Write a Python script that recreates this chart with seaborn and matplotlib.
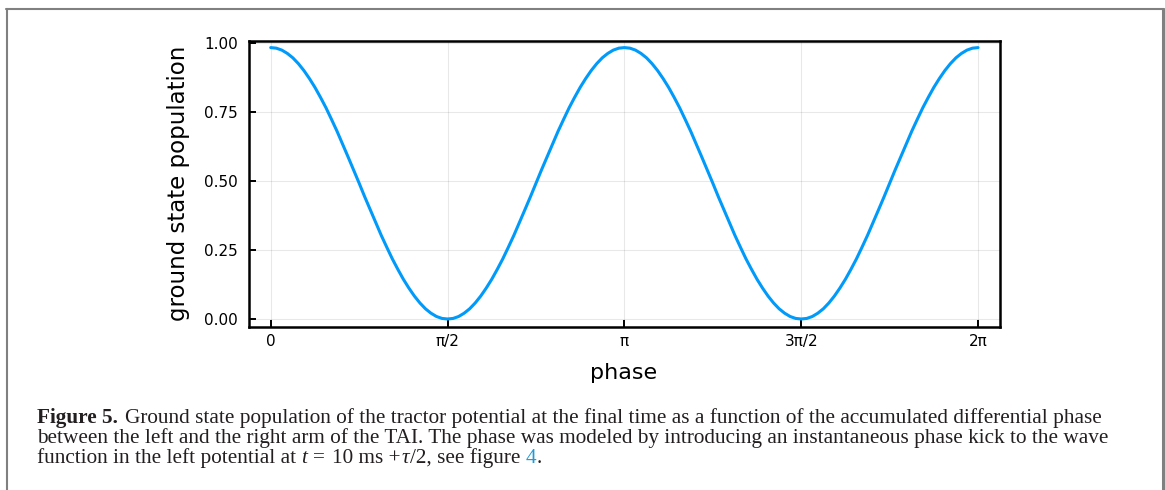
import matplotlib

matplotlib.use("Agg")
import matplotlib.pyplot as plt
import numpy as np
import seaborn as sns
from matplotlib.lines import Line2D

# ground state population, every pi/64 from 0 to pi/2
# (the curve is mirror symmetric about pi/2, pi, 3pi/2)
quarter = [0.983, 0.981, 0.974, 0.962, 0.946, 0.925, 0.900, 0.871, 0.839,
           0.803, 0.765, 0.723, 0.680, 0.634, 0.587, 0.540, 0.492,
           0.443, 0.396, 0.349, 0.303, 0.260, 0.218, 0.180, 0.144,
           0.112, 0.083, 0.058, 0.037, 0.021, 0.009, 0.002, 0.000]
half_period = quarter + quarter[::-1][1:]
population = half_period + half_period[1:]
phase = np.linspace(0, 2 * np.pi, len(population))

xtick_values = [0, np.pi / 2, np.pi, 3 * np.pi / 2, 2 * np.pi]
xtick_labels = ["0", "π/2", "π", "3π/2", "2π"]
ytick_values = [0.0, 0.25, 0.5, 0.75, 1.0]
ytick_labels = ["0.00", "0.25", "0.50", "0.75", "1.00"]

caption_line1 = "Ground state population of the tractor potential at the final time as a function of the accumulated differential phase"
caption_line2 = "between the left and the right arm of the TAI. The phase was modeled by introducing an instantaneous phase kick to the wave"

W, H, DPI = 1165, 490, 100
LINE_BLUE = "#009AFA"
LINK_BLUE = "#1E9BD7"
BORDER = "#808080"
SERIF = "Liberation Serif"
CAP_SIZE = 15.3

sns.set_theme(style="white")
plt.rcParams["font.family"] = ["DejaVu Sans"]

fig = plt.figure(figsize=(W / DPI, H / DPI), dpi=DPI)
ax = fig.add_axes([249 / W, 1 - 327 / H, 751 / W, (327 - 40.7) / H])

sns.lineplot(x=phase, y=population, ax=ax, color=LINE_BLUE, linewidth=2.2)

ax.set_xlim(-0.193, 2 * np.pi + 0.195)
ax.set_ylim(-0.029, 1.008)
ax.set_xticks(xtick_values)
ax.set_xticklabels(xtick_labels)
ax.set_yticks(ytick_values)
ax.set_yticklabels(ytick_labels)
ax.tick_params(direction="in", length=5, width=1.4, labelsize=11, colors="black",
               bottom=True, left=True, top=False, right=False)
ax.tick_params(axis="x", pad=5)
ax.tick_params(axis="y", pad=8)
ax.grid(True, color="black", alpha=0.09, linewidth=0.8)
for spine in ax.spines.values():
    spine.set_visible(True)
    spine.set_color("black")
    spine.set_linewidth(1.8)
ax.set_xlabel("")
ax.set_ylabel("")

fig.text(179 / W, 1 - 183 / H, "ground state population", rotation=90,
         ha="center", va="center", fontsize=16.5, color="black")
fig.text(624 / W, 1 - 373 / H, "phase", ha="center", va="center",
         fontsize=16, color="black")

# page frame around the figure
fig.add_artist(Line2D([7 / W, 7 / W], [0, 1 - 9 / H], color=BORDER, linewidth=1.5))
fig.add_artist(Line2D([6 / W, 1164 / W], [1 - 9.3 / H, 1 - 9.3 / H], color=BORDER, linewidth=1.5))
fig.add_artist(Line2D([1162.5 / W, 1162.5 / W], [0, 1 - 9 / H], color=BORDER, linewidth=2.2))

renderer = fig.canvas.get_renderer()


def text_run(x_px, y_px, parts):
    # parts: (text, extra gap before in px, text kwargs)
    x = x_px
    for txt, gap, kw in parts:
        x += gap
        style = {"family": SERIF, "color": "#231F20", **kw}
        t = fig.text(x / W, 1 - y_px / H, txt, va="baseline", ha="left",
                     fontsize=CAP_SIZE, **style)
        x = t.get_window_extent(renderer).x1


sp = 5.0
text_run(37, 422.5, [("Figure 5.", 0, {"weight": "bold"}), (caption_line1, 7, {})])
text_run(37, 442.5, [(caption_line2, 0, {})])
text_run(37, 462.5, [
    ("function in the left potential at", 0, {}),
    ("t", sp, {"style": "italic"}),
    ("=", sp + 1.5, {}),
    ("10 ms +", sp + 1.5, {}),
    ("τ", 1, {"style": "italic"}),
    ("/2, see figure", 1, {}),
    ("4", sp, {"color": LINK_BLUE}),
    (".", 0.5, {}),
])

fig.savefig("out.png", dpi=DPI)
